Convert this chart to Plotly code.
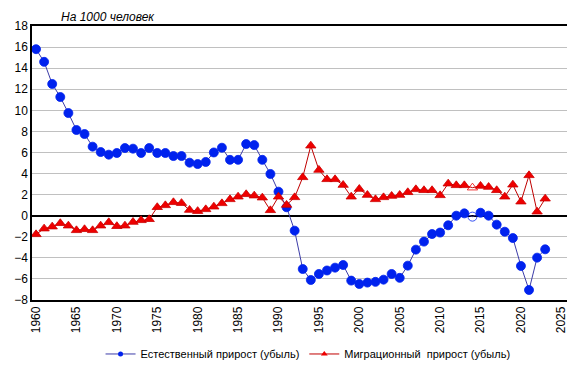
import plotly.graph_objects as go

years = list(range(1960, 2024))
natural = [15.8, 14.6, 12.5, 11.26, 9.74, 8.13, 7.75, 6.55, 6.04, 5.79,
           5.95, 6.42, 6.36, 5.95, 6.42, 5.95, 5.95, 5.66, 5.66, 5.03,
           4.9, 5.1, 6.0, 6.45, 5.3, 5.3, 6.8, 6.7, 5.3, 3.96,
           2.28, 0.8, -1.42, -5.06, -6.1, -5.53, -5.2, -4.93, -4.68, -6.16,
           -6.48, -6.35, -6.28, -6.07, -5.53, -5.9, -4.74, -3.22, -2.46, -1.74,
           -1.6, -0.91, 0.0, 0.22, -0.09, 0.28, 0.0, -0.85, -1.52, -2.12,
           -4.77, -7.05, -3.98, -3.19]
migration = [-1.77, -1.23, -1.04, -0.72, -0.95, -1.39, -1.29, -1.39, -0.95, -0.63,
             -1.0, -0.95, -0.6, -0.44, -0.34, 0.8, 0.98, 1.27, 1.19, 0.54,
             0.43, 0.6, 0.85, 1.17, 1.55, 1.8, 2.03, 1.9, 1.71, 0.51,
             1.8, 1.02, 1.74, 3.64, 6.64, 4.34, 3.45, 3.45, 2.91, 1.8,
             2.53, 1.96, 1.55, 1.74, 1.87, 1.96, 2.22, 2.5, 2.41, 2.41,
             1.93, 3.04, 2.88, 2.88, 2.66, 2.82, 2.72, 2.41, 1.8, 2.94,
             1.33, 3.83, 0.38, 1.61]
open_year = 2014
y_ticks = list(range(-8, 19, 2))
x_ticks = list(range(1960, 2026, 5))

name_nat = "Естественный прирост (убыль)"
name_mig = "Миграционный  прирост (убыль)"

circ = ["circle-open" if y == open_year else "circle" for y in years]
tri = ["triangle-up-open" if y == open_year else "triangle-up" for y in years]

nat_line = dict(color="#3c3ca8", width=1)
mig_line = dict(color="#c00000", width=1)

fig = go.Figure()
fig.add_trace(go.Scatter(
    x=years, y=natural, name=name_nat, mode="lines+markers", showlegend=False,
    line=nat_line,
    marker=dict(symbol=circ, size=9, color="#0022ee",
                line=dict(width=0.8, color="#0022ee")),
))
fig.add_trace(go.Scatter(
    x=years, y=migration, name=name_mig, mode="lines+markers", showlegend=False,
    line=mig_line,
    marker=dict(symbol=tri, size=9, color="#ee0000",
                line=dict(width=0.8, color="#cc0000")),
))
# legend entries with small markers, as in the reference
fig.add_trace(go.Scatter(x=[None], y=[None], name=name_nat, mode="lines+markers",
                         line=nat_line, marker=dict(symbol="circle", size=5, color="#0022ee")))
fig.add_trace(go.Scatter(x=[None], y=[None], name=name_mig, mode="lines+markers",
                         line=mig_line, marker=dict(symbol="triangle-up", size=6, color="#ee0000")))

fig.update_layout(
    width=567, height=363,
    margin=dict(l=24, r=8, t=18, b=71, autoexpand=False),
    paper_bgcolor="white", plot_bgcolor="white",
    font=dict(family="Liberation Sans, Arial, sans-serif", size=12, color="black"),
    showlegend=True,
    legend=dict(orientation="h", x=0.516, xanchor="center", y=-0.197, yanchor="middle",
                font=dict(size=11), itemwidth=30, tracegroupgap=0, itemsizing="trace"),
    annotations=[dict(text="<i>На 1000 человек</i>", xref="paper", yref="paper",
                      x=0.05, y=1.033, xanchor="left", yanchor="middle",
                      showarrow=False, font=dict(size=12))],
)
fig.update_xaxes(range=[1959.5, 2025.7], tickvals=x_ticks, tickangle=-90, automargin=False,
                 showgrid=False, zeroline=False, showline=True, linecolor="black",
                 linewidth=1.5, mirror=True, tickfont=dict(size=12))
fig.update_yaxes(range=[-8, 18], tickvals=y_ticks, showgrid=True, gridcolor="#c0c0c0",
                 gridwidth=1, zeroline=True, zerolinecolor="black", zerolinewidth=1.5,
                 showline=True, linecolor="black", linewidth=1.5, mirror=True,
                 automargin=False, tickfont=dict(size=12))

fig.write_html("out.html")
